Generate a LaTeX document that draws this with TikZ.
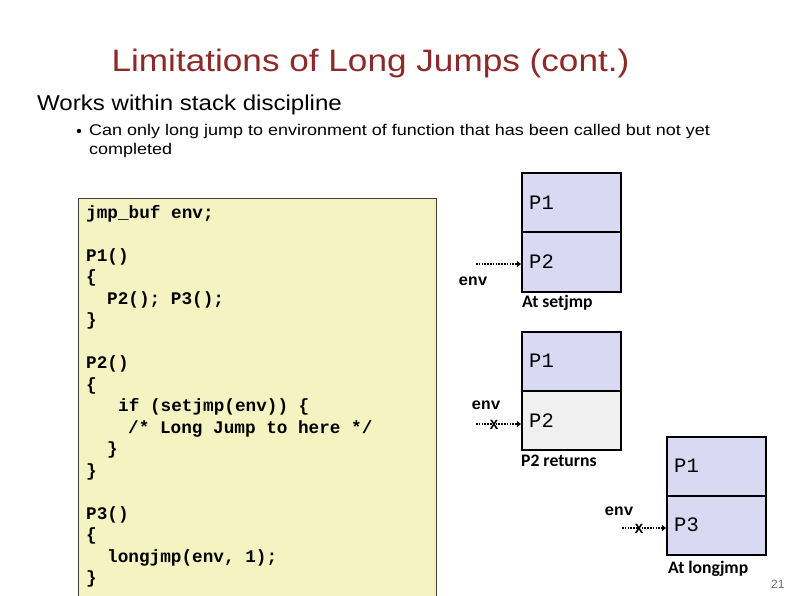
\documentclass[tikz,border=0pt]{standalone}
\usepackage{fontspec}
\setmainfont{Liberation Sans}
\setmonofont{Liberation Mono}
\newfontfamily\labelfont{Carlito}
\usetikzlibrary{arrows.meta}
\definecolor{titlered}{RGB}{140,42,42}
\definecolor{codebg}{RGB}{245,243,193}
\definecolor{stackbg}{RGB}{217,217,243}
\definecolor{gonebg}{RGB}{240,240,240}
\definecolor{pagegray}{RGB}{110,110,110}
\tikzset{
  codeline/.style={anchor=base west, inner sep=0pt, font=\fontsize{17.7}{20}\ttfamily\bfseries},
  framelbl/.style={anchor=west, inner sep=0pt, font=\fontsize{20.5}{22}\ttfamily},
  envlbl/.style={anchor=center, inner sep=0pt, font=\fontsize{16}{18}\ttfamily\bfseries},
  caplbl/.style={anchor=base west, inner sep=0pt, font=\fontsize{17.6}{19}\labelfont\bfseries},
  cell/.style={draw=black, line width=2.4pt},
  envarrow/.style={line width=2.6pt, dash pattern=on 1.6pt off 1.2pt, -{Triangle[length=4pt,width=6pt]}},
  xmark/.style={inner sep=0pt, font=\fontsize{14}{15}\ttfamily\bfseries},
  bodytext/.style={anchor=base west, inner sep=0pt},
}
\begin{document}
\begin{tikzpicture}[x=1pt,y=-1pt]
\useasboundingbox (0,0) rectangle (794,595);
% title and text
\node[anchor=base, inner sep=0pt, text=titlered, font=\fontsize{31}{36}\selectfont] (title) at (370.5,71) {\scalebox{1.134}[1]{Limitations of Long Jumps (cont.)}};
\node[bodytext, font=\fontsize{21.5}{24}\selectfont] (works) at (37,110) {\scalebox{1.12}[1]{Works within stack discipline}};
\fill (79,131) circle (2.2pt);
\node[bodytext, font=\fontsize{15.5}{18}\selectfont] (b1) at (89,135) {\scalebox{1.16}[1]{Can only long jump to environment of function that has been called but not yet}};
\node[bodytext, font=\fontsize{15.5}{18}\selectfont] (b2) at (89,154) {\scalebox{1.16}[1]{completed}};
% code box
\filldraw[fill=codebg, draw=black!75, line width=0.8pt] (78,198) rectangle (436,600);
\node[codeline] (c0) at (86,218) {jmp\_buf env;};
\node[codeline] (c2) at (86,261) {P1()};
\node[codeline] (c3) at (86,282.5) {\{};
\node[codeline] (c4) at (107,304) {P2(); P3();};
\node[codeline] (c5) at (86,325.5) {\}};
\node[codeline] (c7) at (86,368.5) {P2()};
\node[codeline] (c8) at (86,390) {\{};
\node[codeline] (c9) at (118,411.5) {if (setjmp(env)) \{};
\node[codeline] (c10) at (128,433) {/* Long Jump to here */};
\node[codeline] (c11) at (107,454.5) {\}};
\node[codeline] (c12) at (86,476) {\}};
\node[codeline] (c14) at (86,519) {P3()};
\node[codeline] (c15) at (86,540.5) {\{};
\node[codeline] (c16) at (107,562) {longjmp(env, 1);};
\node[codeline] (c17) at (86,583.5) {\}};
% stack 1
\filldraw[cell, fill=stackbg] (522,173) rectangle (621,232);
\filldraw[cell, fill=stackbg] (522,232) rectangle (621,292);
\node[framelbl] (s1p1) at (529,202.5) {P1};
\node[framelbl] (s1p2) at (529,262) {P2};
\coordinate (s1tgt) at (521,264);
\coordinate (s1src) at (476,264);
\draw[envarrow] (s1src) -- (s1tgt);
\node[envlbl] (s1env) at (473,281) {env};
\node[caplbl] (s1cap) at (522,307) {At setjmp};
% stack 2
\filldraw[cell, fill=stackbg] (522,332) rectangle (621,391);
\filldraw[cell, fill=gonebg] (522,391) rectangle (621,450);
\node[framelbl] (s2p1) at (529,361) {P1};
\node[framelbl] (s2p2) at (529,421) {P2};
\coordinate (s2tgt) at (521,424);
\coordinate (s2src) at (476,424);
\draw[envarrow] (s2src) -- (s2tgt);
\node[xmark] (s2x) at (494,425) {X};
\node[envlbl] (s2env) at (486,405) {env};
\node[caplbl] (s2cap) at (521,466) {P2 returns};
% stack 3
\filldraw[cell, fill=stackbg] (667,437) rectangle (766,496);
\filldraw[cell, fill=stackbg] (667,496) rectangle (766,555);
\node[framelbl] (s3p1) at (674,466) {P1};
\node[framelbl] (s3p3) at (674,525) {P3};
\coordinate (s3tgt) at (666,528);
\coordinate (s3src) at (622,528);
\draw[envarrow] (s3src) -- (s3tgt);
\node[xmark] (s3x) at (639,529) {X};
\node[envlbl] (s3env) at (619,511) {env};
\node[caplbl] (s3cap) at (668,573) {At longjmp};
% page number
\node[anchor=base west, inner sep=0pt, text=pagegray, font=\fontsize{12}{14}\selectfont] (pg) at (771,588) {21};
\end{tikzpicture}
\end{document}
